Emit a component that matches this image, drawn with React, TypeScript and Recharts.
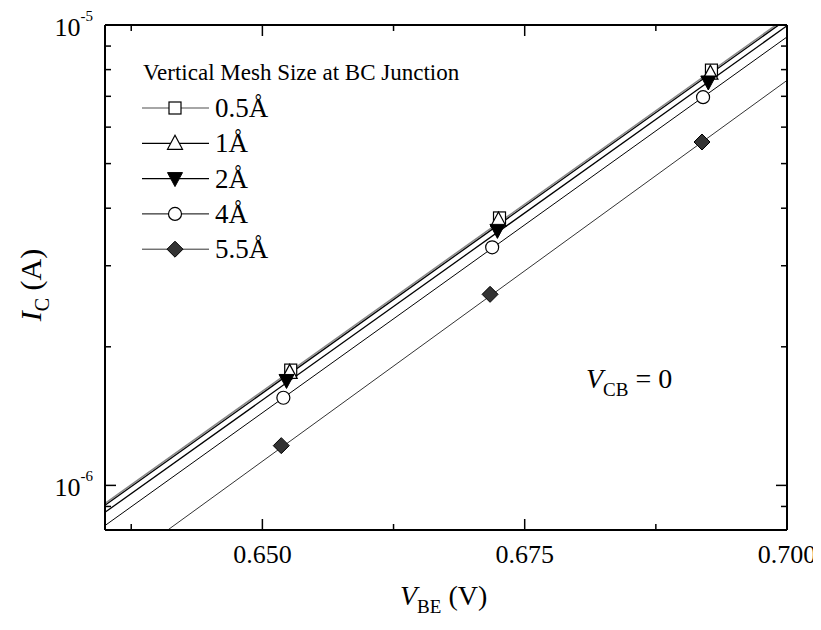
import React from 'react';
import { ComposedChart, Line, XAxis, YAxis } from 'recharts';

// simulated points (V_BE in V, I_C in A) for each vertical mesh size
const vbe05 = [0.6527, 0.6726, 0.6928];
const ic05 = [1.78e-6, 3.81e-6, 7.98e-6];
const vbe1 = [0.6526, 0.6725, 0.6927];
const ic1 = [1.76e-6, 3.77e-6, 7.86e-6];
const vbe2 = [0.6523, 0.6724, 0.6925];
const ic2 = [1.69e-6, 3.58e-6, 7.52e-6];
const vbe4 = [0.652, 0.6719, 0.692];
const ic4 = [1.55e-6, 3.29e-6, 6.97e-6];
const vbe55 = [0.6518, 0.6717, 0.6919];
const ic55 = [1.22e-6, 2.6e-6, 5.57e-6];

// fitted lines, read at the two ends of the V_BE range
const fitV = [0.635, 0.7];
const fit05 = [9.14e-7, 1.04e-5];
const fit1 = [9.05e-7, 1.03e-5];
const fit2 = [8.74e-7, 9.96e-6];
const fit4 = [8.18e-7, 9.42e-6];
const fit55 = [6.37e-7, 7.58e-6];

const seriesNames = ['0.5Å', '1Å', '2Å', '4Å', '5.5Å'];

const xMajor = [0.65, 0.675, 0.7];
const xTicks = [0.6375, 0.65, 0.6625, 0.675, 0.6875, 0.7];
const yMajor = [1e-6, 1e-5];
const yTicks = [9e-7, 1e-6, 2e-6, 3e-6, 4e-6, 5e-6, 6e-6, 7e-6, 8e-6, 9e-6, 1e-5];

const FONT = "'Times New Roman', 'Liberation Serif', Tinos, 'DejaVu Serif', 'Noto Serif', serif";

const toRows = (xs: number[], ys: number[]) => xs.map((v, i) => ({ v, i: ys[i] }));

type Kind = 'square' | 'up' | 'down' | 'circle' | 'diamond';

const marker = (kind: Kind, cx: number, cy: number, key?: string | number) => {
  if (kind === 'square')
    return <rect key={key} x={cx - 6} y={cy - 6} width={12} height={12} fill="#fff" stroke="#000" strokeWidth={1.2} />;
  if (kind === 'up')
    return <polygon key={key} points={`${cx},${cy - 8} ${cx - 7.5},${cy + 6} ${cx + 7.5},${cy + 6}`} fill="#fff" stroke="#000" strokeWidth={1.2} />;
  if (kind === 'down')
    return <polygon key={key} points={`${cx},${cy + 8} ${cx - 7.5},${cy - 6} ${cx + 7.5},${cy - 6}`} fill="#000" stroke="#000" strokeWidth={1} />;
  if (kind === 'circle')
    return <circle key={key} cx={cx} cy={cy} r={6.5} fill="#fff" stroke="#000" strokeWidth={1.2} />;
  return <polygon key={key} points={`${cx},${cy - 8} ${cx + 8},${cy} ${cx},${cy + 8} ${cx - 8},${cy}`} fill="#333" stroke="#000" strokeWidth={1} />;
};

const series = [
  { name: seriesNames[0], kind: 'square' as Kind, pts: toRows(vbe05, ic05), fit: toRows(fitV, fit05), stroke: '#888', width: 1.5 },
  { name: seriesNames[1], kind: 'up' as Kind, pts: toRows(vbe1, ic1), fit: toRows(fitV, fit1), stroke: '#000', width: 1.3 },
  { name: seriesNames[2], kind: 'down' as Kind, pts: toRows(vbe2, ic2), fit: toRows(fitV, fit2), stroke: '#000', width: 1.3 },
  { name: seriesNames[3], kind: 'circle' as Kind, pts: toRows(vbe4, ic4), fit: toRows(fitV, fit4), stroke: '#000', width: 1 },
  { name: seriesNames[4], kind: 'diamond' as Kind, pts: toRows(vbe55, ic55), fit: toRows(fitV, fit55), stroke: '#333', width: 1 },
];

const BottomTick = (props: any) => {
  const { x, y, payload } = props;
  const major = xMajor.includes(payload.value);
  return (
    <g>
      <line x1={x} x2={x} y1={y} y2={y - (major ? 11 : 6)} stroke="#000" strokeWidth={1.5} />
      {major && (
        <text x={x} y={y + 33} textAnchor="middle" fontSize={26} style={{ fontFamily: FONT }} fill="#000">
          {payload.value.toFixed(3)}
        </text>
      )}
    </g>
  );
};

const TopTick = (props: any) => {
  const { x, y, payload } = props;
  const major = xMajor.includes(payload.value);
  return <line x1={x} x2={x} y1={y} y2={y + (major ? 11 : 6)} stroke="#000" strokeWidth={1.5} />;
};

const LeftTick = (props: any) => {
  const { x, y, payload } = props;
  const major = yMajor.includes(payload.value);
  const exp = Math.round(Math.log10(payload.value));
  return (
    <g>
      <line x1={x} x2={x + (major ? 11 : 6)} y1={y} y2={y} stroke="#000" strokeWidth={1.5} />
      {major && (
        <text x={x - 12} y={y + 11} textAnchor="end" style={{ fontFamily: FONT }} fill="#000">
          <tspan fontSize={26}>10</tspan>
          <tspan fontSize={15} dy={-15}>{exp}</tspan>
        </text>
      )}
    </g>
  );
};

const RightTick = (props: any) => {
  const { x, y, payload } = props;
  const major = yMajor.includes(payload.value);
  return <line x1={x} x2={x - (major ? 11 : 6)} y1={y} y2={y} stroke="#000" strokeWidth={1.5} />;
};

const axisLine = { stroke: '#000', strokeWidth: 2 };

export default function App() {
  return (
    <div style={{ position: 'relative', width: 813, height: 614, fontFamily: FONT }}>
      <ComposedChart width={813} height={614} margin={{ top: 0, right: 0, bottom: 0, left: 0 }}>
        <XAxis
          xAxisId="b"
          type="number"
          dataKey="v"
          domain={[0.635, 0.7]}
          ticks={xTicks}
          interval={0}
          allowDataOverflow
          height={92}
          axisLine={axisLine}
          tickLine={false}
          tickSize={0}
          tickMargin={0}
          tick={BottomTick}
        />
        <XAxis
          xAxisId="t"
          orientation="top"
          type="number"
          dataKey="v"
          domain={[0.635, 0.7]}
          ticks={xTicks}
          interval={0}
          allowDataOverflow
          height={17}
          axisLine={axisLine}
          tickLine={false}
          tickSize={0}
          tickMargin={0}
          tick={TopTick}
        />
        <YAxis
          yAxisId="l"
          type="number"
          scale="log"
          domain={[8e-7, 1e-5]}
          ticks={yTicks}
          interval={0}
          allowDataOverflow
          width={97}
          axisLine={axisLine}
          tickLine={false}
          tickSize={0}
          tickMargin={0}
          tick={LeftTick}
        />
        <YAxis
          yAxisId="r"
          orientation="right"
          type="number"
          scale="log"
          domain={[8e-7, 1e-5]}
          ticks={yTicks}
          interval={0}
          allowDataOverflow
          width={34}
          axisLine={axisLine}
          tickLine={false}
          tickSize={0}
          tickMargin={0}
          tick={RightTick}
        />
        {series.map((s) => (
          <Line
            key={`fit-${s.name}`}
            xAxisId="b"
            yAxisId="l"
            data={s.fit}
            dataKey="i"
            stroke={s.stroke}
            strokeWidth={s.width}
            dot={false}
            activeDot={false}
            isAnimationActive={false}
          />
        ))}
        {series.map((s) => (
          <Line
            key={`pts-${s.name}`}
            xAxisId="b"
            yAxisId="l"
            data={s.pts}
            dataKey="i"
            stroke="none"
            dot={(p: any) => marker(s.kind, p.cx, p.cy, `${s.name}-${p.index}`)}
            activeDot={false}
            isAnimationActive={false}
          />
        ))}
      </ComposedChart>
      <svg
        width={813}
        height={614}
        style={{ position: 'absolute', left: 0, top: 0, pointerEvents: 'none', fontFamily: FONT }}
      >
        <text x={135} y={72} fontSize={23} fill="#000">Vertical Mesh Size at BC Junction</text>
        {series.map((s, k) => {
          const cy = 100 + k * 35.3;
          return (
            <g key={s.name}>
              <line x1={134} x2={201} y1={cy} y2={cy} stroke={s.stroke} strokeWidth={s.width} />
              {marker(s.kind, 167, cy)}
              <text x={207} y={cy + 9} fontSize={27} fill="#000">{s.name}</text>
            </g>
          );
        })}
        <text x={578} y={380} fill="#000">
          <tspan fontSize={28} fontStyle="italic">V</tspan>
          <tspan fontSize={19} dy={8}>CB</tspan>
          <tspan fontSize={28} dy={-8}> = 0</tspan>
        </text>
        <text x={392} y={597} fill="#000">
          <tspan fontSize={28} fontStyle="italic">V</tspan>
          <tspan fontSize={19} dy={8}>BE</tspan>
          <tspan fontSize={28} dy={-8}> (V)</tspan>
        </text>
        <text x={33} y={277} textAnchor="middle" transform="rotate(-90 33 277)" fill="#000">
          <tspan fontSize={30} fontStyle="italic">I</tspan>
          <tspan fontSize={20} dy={8}>C</tspan>
          <tspan fontSize={30} dy={-8}> (A)</tspan>
        </text>
      </svg>
    </div>
  );
}
